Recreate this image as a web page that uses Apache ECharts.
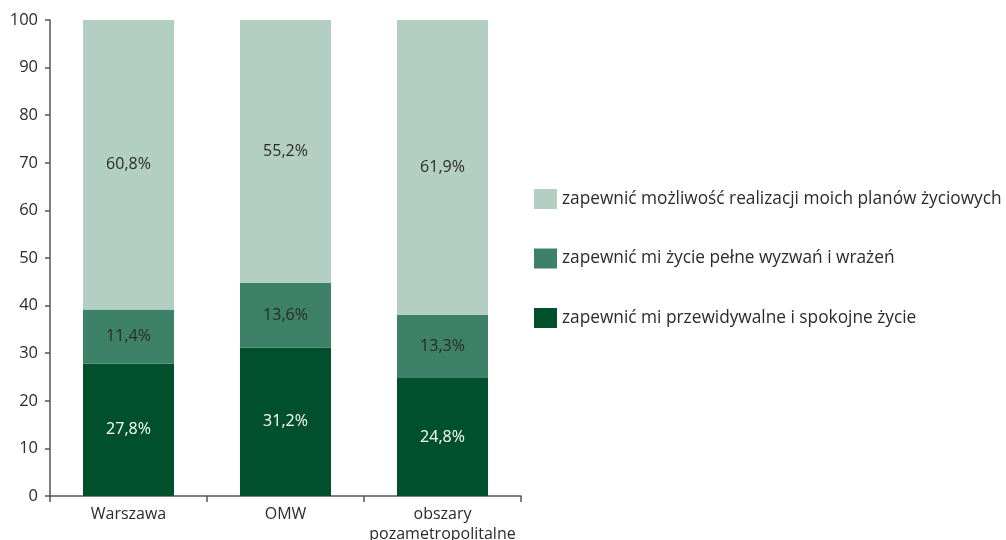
<!DOCTYPE html>
<html><head><meta charset="utf-8">
<script src="https://cdn.jsdelivr.net/npm/echarts@6/dist/echarts.min.js"></script>
<style>html,body{margin:0;padding:0;background:#fff}#c{width:1006px;height:540px}</style>
</head><body><div id="c"></div>
<script>
const categories = ['Warszawa', 'OMW', 'obszary\npozametropolitalne'];
const seriesNames = [
  'zapewnić mi przewidywalne i spokojne życie',
  'zapewnić mi życie pełne wyzwań i wrażeń',
  'zapewnić możliwość realizacji moich planów życiowych'
];
const spokojne = [27.8, 31.2, 24.8];
const wyzwania = [11.4, 13.6, 13.3];
const plany = [60.8, 55.2, 61.9];
const yTicks = [0, 10, 20, 30, 40, 50, 60, 70, 80, 90, 100];

const font = '"Open Sans", "Noto Sans", sans-serif';
const colors = ['#00502e', '#3d8168', '#b3cfc3'];
const labelColors = ['#ffffff', '#2b2b2b', '#2b2b2b'];
const data = [spokojne, wyzwania, plany];

const chart = echarts.init(document.getElementById('c'));
chart.setOption({
  animation: false,
  textStyle: { fontFamily: font },
  grid: { left: 50, right: 485, top: 20, bottom: 44, containLabel: false, outerBoundsMode: 'none' },
  legend: {
    orient: 'vertical',
    left: 534, top: 189, padding: 0,
    itemWidth: 23, itemHeight: 20, itemGap: 39.5,
    icon: 'rect',
    data: [seriesNames[2], seriesNames[1], seriesNames[0]],
    textStyle: { fontFamily: font, fontSize: 17.3, color: '#2b2b2b' }
  },
  xAxis: {
    type: 'category',
    data: categories,
    axisLine: { lineStyle: { color: '#555', width: 1.5 } },
    axisTick: { show: true, length: 6, lineStyle: { color: '#555', width: 1.5 } },
    axisLabel: { color: '#2b2b2b', fontSize: 16, margin: 8, lineHeight: 20, fontFamily: font, interval: 0 }
  },
  yAxis: {
    type: 'value',
    min: 0, max: 100, interval: 10,
    splitLine: { show: false },
    axisLine: { show: true, lineStyle: { color: '#555', width: 1.5 } },
    axisTick: { show: true, length: 5, lineStyle: { color: '#555', width: 1.5 } },
    axisLabel: {
      color: '#2b2b2b', fontSize: 16.5, margin: 12, fontFamily: font,
      formatter: v => yTicks.includes(v) ? String(v) : ''
    }
  },
  series: data.map((d, i) => ({
    name: seriesNames[i],
    type: 'bar',
    stack: 'total',
    barWidth: 91,
    data: d,
    itemStyle: { color: colors[i] },
    label: {
      show: true,
      position: 'inside',
      color: labelColors[i],
      fontSize: 16,
      fontFamily: font,
      formatter: p => p.value.toFixed(1).replace('.', ',') + '%'
    }
  }))
});
</script></body></html>
